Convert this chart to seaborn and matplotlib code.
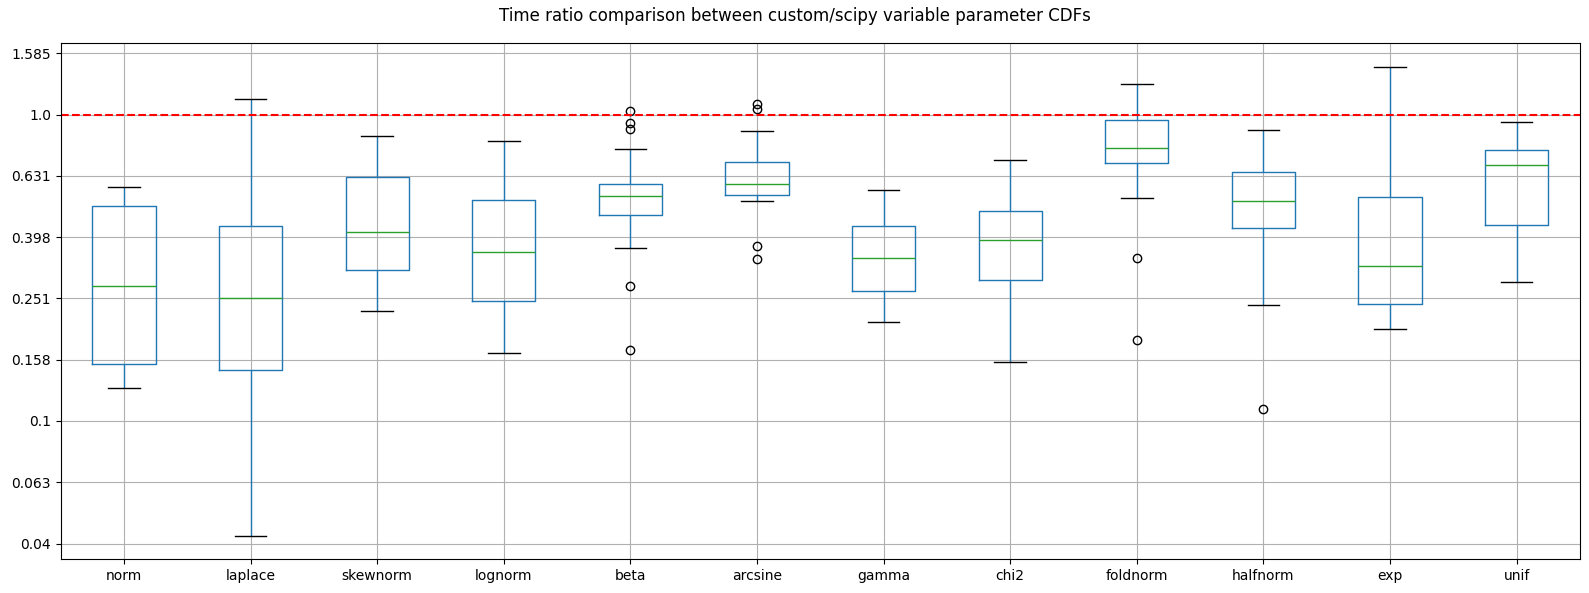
import numpy as np
import pandas as pd
import seaborn as sns
import matplotlib
matplotlib.use("Agg")
import matplotlib.pyplot as plt

# log10 of time ratio (custom / scipy), points read off the boxes
# (whisker ends, quartiles, median, outliers)
norm = [-0.893, -0.814, -0.558, -0.298, -0.236]
laplace = [-1.374, -0.834, -0.600, -0.363, 0.050]
skewnorm = [-0.642, -0.508, -0.382, -0.203, -0.070]
lognorm = [-0.779, -0.610, -0.447, -0.279, -0.085]
beta = [-0.769, -0.558, -0.434, -0.327, -0.327, -0.327, -0.265, -0.265, -0.265,
        -0.265, -0.226, -0.226, -0.226, -0.112, -0.048, -0.029, 0.011]
arcsine = [-0.470, -0.428, -0.281, -0.262, -0.262, -0.226, -0.226,
           -0.226, -0.155, -0.155, -0.054, 0.019, 0.033]
gamma = [-0.678, -0.577, -0.467, -0.363, -0.246]
chi2 = [-0.807, -0.540, -0.411, -0.314, -0.147]
foldnorm = [-0.737, -0.467, -0.271, -0.158, -0.158, -0.109, -0.109,
            -0.109, -0.018, -0.018, -0.018, -0.018, 0.099]
halfnorm = [-0.960, -0.623, -0.369, -0.369, -0.281, -0.187, -0.187, -0.187, -0.050]
exp = [-0.700, -0.618, -0.493, -0.268, 0.156]
unif = [-0.547, -0.362, -0.164, -0.115, -0.023]

dists = {"norm": norm, "laplace": laplace, "skewnorm": skewnorm, "lognorm": lognorm,
         "beta": beta, "arcsine": arcsine, "gamma": gamma, "chi2": chi2,
         "foldnorm": foldnorm, "halfnorm": halfnorm, "exp": exp, "unif": unif}

df = pd.DataFrame([(k, v) for k, vals in dists.items() for v in vals],
                  columns=["dist", "logratio"])

fig = plt.figure(figsize=(15.89, 5.93), dpi=100)
ax = fig.add_axes([0.0382, 0.0573, 0.9561, 0.8697])

sns.boxplot(data=df, x="dist", y="logratio", order=list(dists.keys()), ax=ax,
            fill=False, color="C0", width=0.5, linewidth=1.0,
            medianprops=dict(color="C2", linewidth=1.0),
            whiskerprops=dict(color="C0", linewidth=1.0),
            capprops=dict(color="k", linewidth=1.0),
            flierprops=dict(marker="o", markersize=6, markerfacecolor="none",
                            markeredgecolor="k", markeredgewidth=1.0))

ax.axhline(0, color="red", linestyle="--", linewidth=1.5)

ticks = np.arange(-1.4, 0.21, 0.2)
ax.set_yticks(ticks)
ax.set_yticklabels([str(round(10 ** t, 3)) for t in ticks])
ax.set_xlim(-0.5, 11.5)
ax.grid(True)
ax.set_xlabel("")
ax.set_ylabel("")

fig.suptitle("Time ratio comparison between custom/scipy variable parameter CDFs",
             fontsize=12, y=0.973, va="center")

fig.savefig("out.png", dpi=100)
